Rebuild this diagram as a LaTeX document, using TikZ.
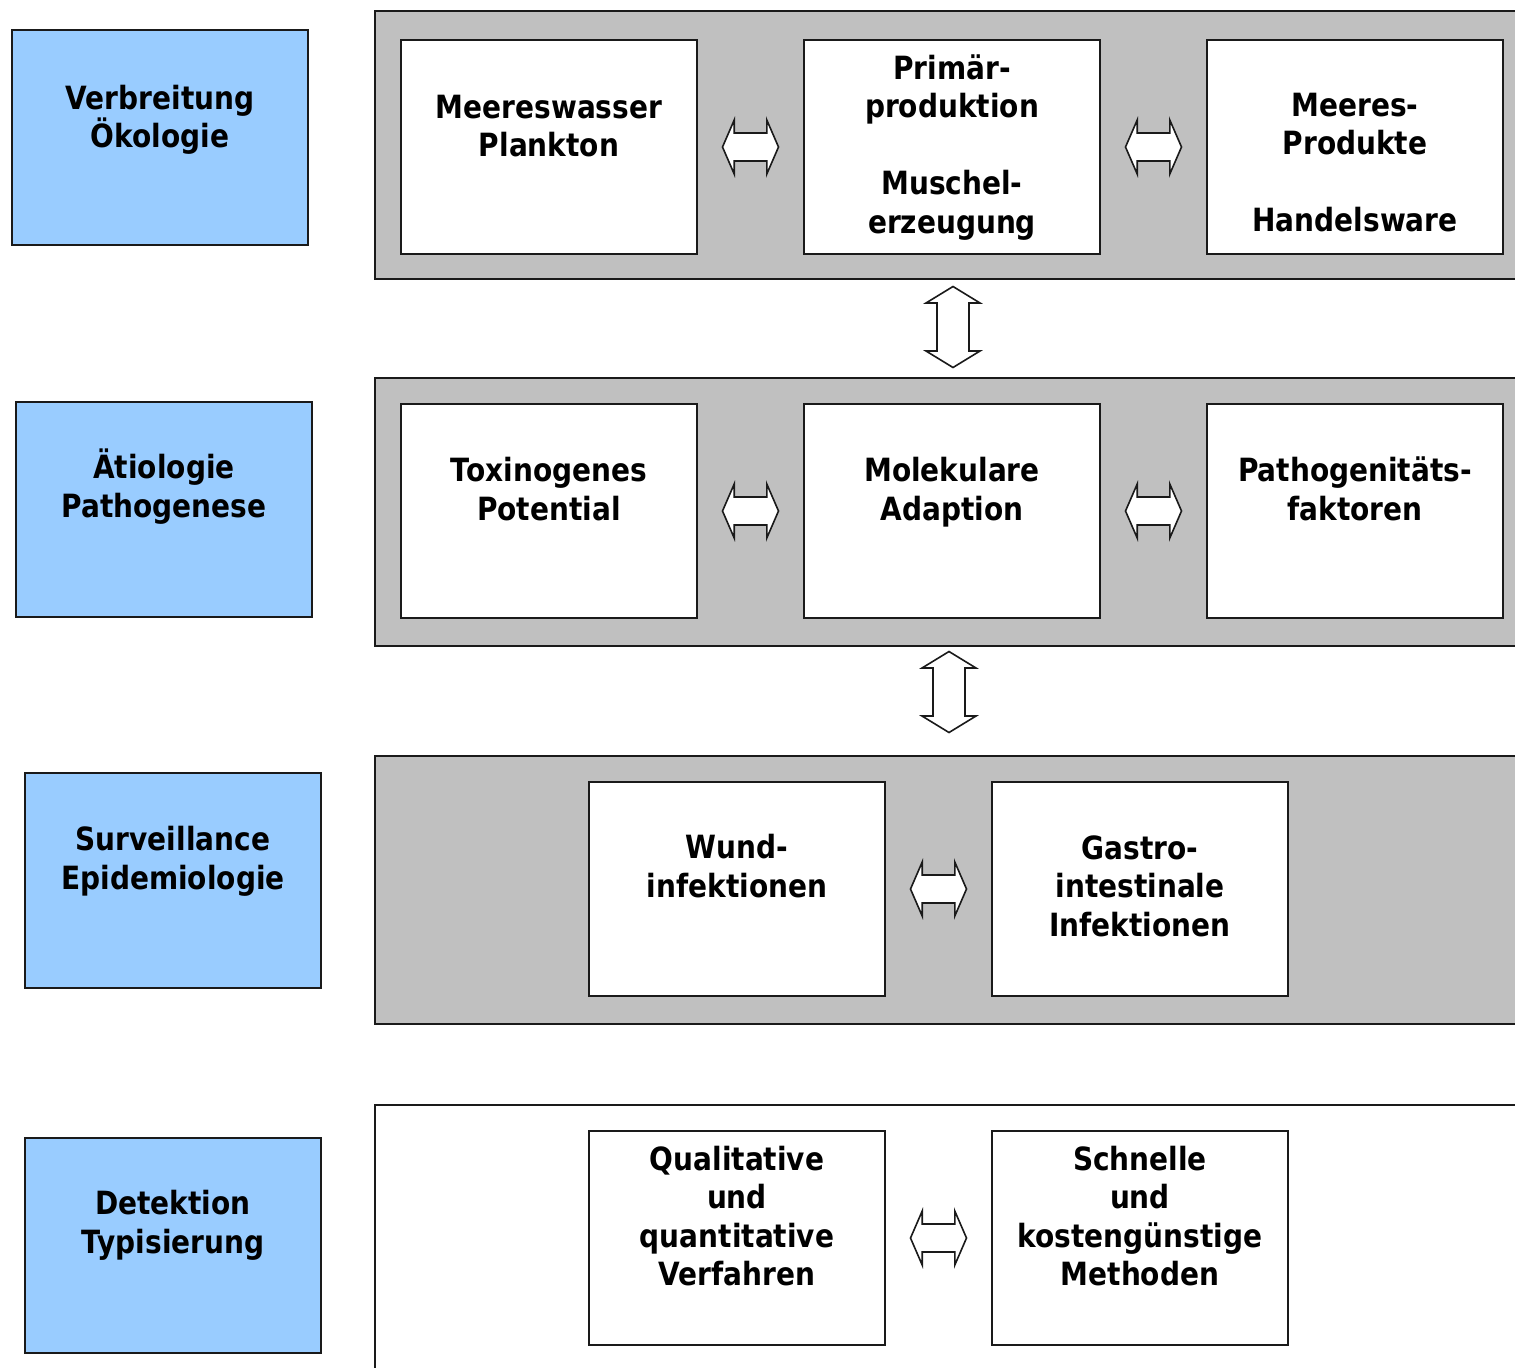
\documentclass[tikz,border=0pt]{standalone}
\usepackage{fontspec}
\usetikzlibrary{calc}
\newfontfamily\lbl[FakeStretch=0.875]{DejaVu Sans}
\definecolor{lblue}{HTML}{99CCFF}
\definecolor{pgray}{HTML}{C0C0C0}
\definecolor{edge}{HTML}{1A1A1A}
\newcommand\lst{\rule[-0.23em]{0pt}{1.18em}}
\tikzset{
  bluebox/.style={draw=edge, line width=1pt, fill=lblue, minimum width=148pt, minimum height=107.5pt, inner sep=0pt},
  whitebox/.style={draw=edge, line width=1pt, fill=white, minimum width=148pt, minimum height=107pt, inner sep=0pt},
  panel/.style={draw=edge, line width=1pt, fill=pgray, anchor=north west, minimum width=580pt, minimum height=134pt, inner sep=0pt},
  wpanel/.style={draw=edge, line width=1pt, fill=white, anchor=north west, minimum width=580pt, minimum height=200pt, inner sep=0pt},
  txt/.style={font=\lbl\bfseries\fontsize{16}{19.25}\selectfont, align=center, inner sep=0pt, anchor=center, text=black},
  arr/.style={draw=edge, line width=0.8pt, fill=white, line join=miter},
  hdbl/.pic={\draw[arr] (-28,0) -- (-16.3,-27) -- (-16.3,-14) -- (16.3,-14) -- (16.3,-27) -- (28,0) -- (16.3,27) -- (16.3,14) -- (-16.3,14) -- (-16.3,27) -- cycle;},
  vdbl/.pic={\draw[arr] (0,-40.5) -- (27,-24) -- (16,-24) -- (16,24) -- (27,24) -- (0,40.5) -- (-27,24) -- (-16,24) -- (-16,-24) -- (-27,-24) -- cycle;}
}
\begin{document}
\begin{tikzpicture}[x=0.5pt, y=-0.5pt]
\clip (0,0) rectangle (1515,1367);
\fill[white] (0,0) rectangle (1515,1367);

% panels
\node[panel] (P1) at (374,10) {};
\node[panel] (P2) at (374,377) {};
\node[panel] (P3) at (374,755) {};
\node[wpanel] (P4) at (374,1104) {};

% left blue boxes
\node[bluebox] (B1) at (160,137.5) {};
\node[bluebox] (B2) at (164,509) {};
\node[bluebox] (B3) at (173,880.5) {};
\node[bluebox] (B4) at (173,1245) {};
\node[txt] (tB1) at (160,117.2) {\lst Verbreitung\\\lst Ökologie};
\node[txt] (tB2) at (164,486.5) {\lst Ätiologie\\\lst Pathogenese};
\node[txt] (tB3) at (173,858.5) {\lst Surveillance\\\lst Epidemiologie};
\node[txt] (tB4) at (173,1222.5) {\lst Detektion\\\lst Typisierung};

% row 1
\node[whitebox] (A1) at (549,147) {};
\node[whitebox] (A2) at (952,147) {};
\node[whitebox] (A3) at (1355,147) {};
\node[txt] (tA1) at (549,126) {\lst Meereswasser\\\lst Plankton};
\node[txt] (tA2) at (952,144.5) {\lst Primär-\\\lst produktion\\\lst\\\lst Muschel-\\\lst erzeugung};
\node[txt] (tA3) at (1355,162.5) {\lst Meeres-\\\lst Produkte\\\lst\\\lst Handelsware};

% row 2
\node[whitebox] (C1) at (549,511) {};
\node[whitebox] (C2) at (952,511) {};
\node[whitebox] (C3) at (1355,511) {};
\node[txt] (tC1) at (549,489.7) {\lst Toxinogenes\\\lst Potential};
\node[txt] (tC2) at (952,489.7) {\lst Molekulare\\\lst Adaption};
\node[txt] (tC3) at (1355,489.7) {\lst Pathogenitäts-\\\lst faktoren};

% row 3
\node[whitebox] (D1) at (737,889) {};
\node[whitebox] (D2) at (1140,889) {};
\node[txt] (tD1) at (737,866.5) {\lst Wund-\\\lst infektionen};
\node[txt] (tD2) at (1140,886) {\lst Gastro-\\\lst intestinale\\\lst Infektionen};

% row 4
\node[whitebox] (E1) at (737,1238) {};
\node[whitebox] (E2) at (1140,1238) {};
\node[txt] (tE1) at (737,1216.5) {\lst Qualitative\\\lst und\\\lst quantitative\\\lst Verfahren};
\node[txt] (tE2) at (1140,1216.5) {\lst Schnelle\\\lst und\\\lst kostengünstige\\\lst Methoden};

% double arrows
\pic (h1) at ($(A1.east)!0.5!(A2.west)$) {hdbl};
\pic (h2) at ($(A2.east)!0.5!(A3.west)$) {hdbl};
\pic (h3) at ($(C1.east)!0.5!(C2.west)$) {hdbl};
\pic (h4) at ($(C2.east)!0.5!(C3.west)$) {hdbl};
\pic (h5) at ($(D1.east)!0.5!(D2.west)$) {hdbl};
\pic (h6) at ($(E1.east)!0.5!(E2.west)$) {hdbl};
\pic (v1) at (953,327) {vdbl};
\pic (v2) at (949,692) {vdbl};
\end{tikzpicture}
\end{document}
